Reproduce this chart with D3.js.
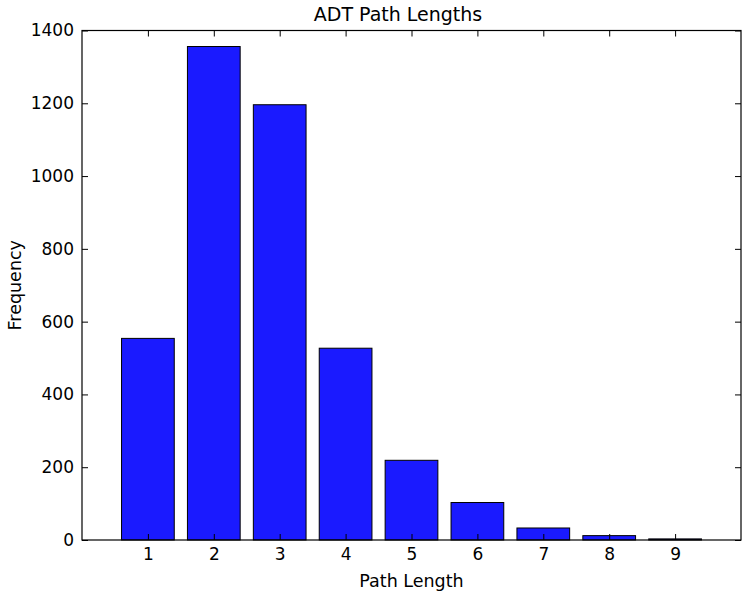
<!DOCTYPE html>
<html><head><meta charset="utf-8">
<script src="https://cdn.jsdelivr.net/npm/d3@7"></script>
<style>body{margin:0;background:#fff}svg{display:block}text{font-family:"DejaVu Sans",sans-serif;fill:#000}</style>
</head><body>
<script>
const categories = [1,2,3,4,5,6,7,8,9];
const values = [554, 1356, 1196, 527, 219, 103, 33, 12, 3];
const yTicks = [0,200,400,600,800,1000,1200,1400];
const title = "ADT Path Lengths";
const xLabel = "Path Length";
const yLabel = "Frequency";

const W = 750, H = 599;
const m = {left: 82, top: 30.5, right: 741, bottom: 540};
const svg = d3.select("body").append("svg").attr("width", W).attr("height", H);
const x = d3.scaleLinear().domain([0,10]).range([m.left, m.right]);
const y = d3.scaleLinear().domain([0,1400]).range([m.bottom, m.top]);
const bw = x(0.8) - x(0);

svg.append("g").selectAll("rect").data(categories).join("rect")
  .attr("x", (d) => x(d) - bw/2)
  .attr("y", (d,i) => y(values[i]))
  .attr("width", bw)
  .attr("height", (d,i) => y(0) - y(values[i]))
  .attr("fill", "#1a1aff").attr("stroke", "#000").attr("stroke-width", 1);

const tl = 6;
const gx = svg.append("g").attr("transform", `translate(0,${m.bottom})`)
  .call(d3.axisBottom(x).tickValues(categories).tickFormat(d3.format("d")).tickSizeInner(-tl).tickSizeOuter(0).tickPadding(8));
const gxt = svg.append("g").attr("transform", `translate(0,${m.top})`)
  .call(d3.axisTop(x).tickValues(categories).tickSizeInner(-tl).tickSizeOuter(0).tickFormat(""));
const gy = svg.append("g").attr("transform", `translate(${m.left},0)`)
  .call(d3.axisLeft(y).tickValues(yTicks).tickFormat(d3.format("d")).tickSizeInner(-tl).tickSizeOuter(0).tickPadding(8));
const gyr = svg.append("g").attr("transform", `translate(${m.right},0)`)
  .call(d3.axisRight(y).tickValues(yTicks).tickSizeInner(-tl).tickSizeOuter(0).tickFormat(""));
[gx,gxt,gy,gyr].forEach(g => {
  g.select(".domain").remove();
  g.selectAll("line").attr("stroke", "#000");
  g.selectAll("text").style("font-size", "17px").attr("fill", "#000");
});

svg.append("rect").attr("x", m.left).attr("y", m.top).attr("width", m.right - m.left).attr("height", m.bottom - m.top)
  .attr("fill", "none").attr("stroke", "#000").attr("stroke-width", 1.2);

svg.append("text").attr("x", 398).attr("y", 21).attr("text-anchor", "middle").style("font-size", "19px").text(title);
svg.append("text").attr("x", (m.left+m.right)/2).attr("y", 587).attr("text-anchor", "middle").style("font-size", "17.5px").text(xLabel);
svg.append("text").attr("transform", `translate(21,${(m.top+m.bottom)/2}) rotate(-90)`).attr("text-anchor", "middle").style("font-size", "17.5px").text(yLabel);
</script>
</body></html>
